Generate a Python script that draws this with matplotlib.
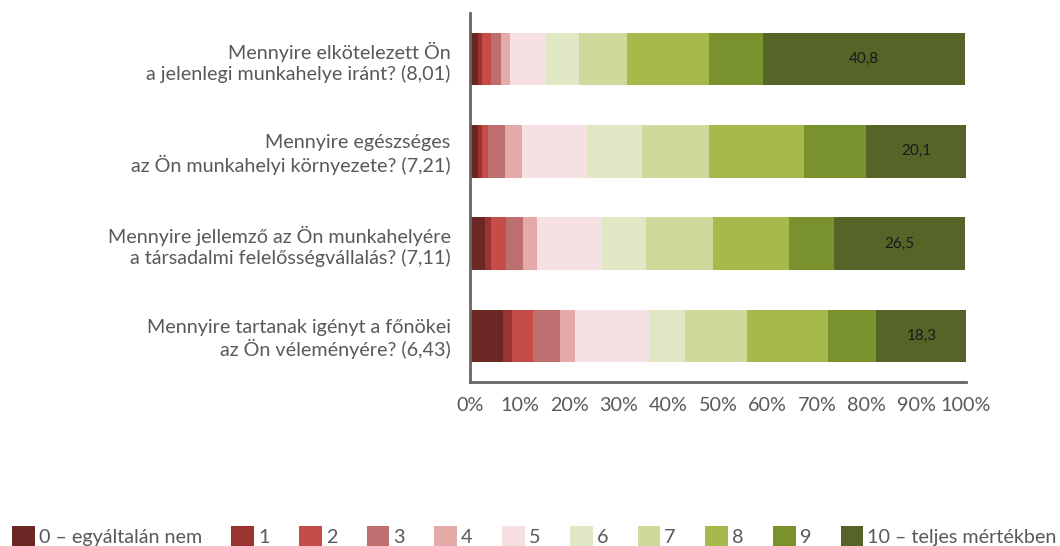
import numpy as np
import matplotlib
matplotlib.use("Agg")
import matplotlib.pyplot as plt
from matplotlib.patches import Patch

plt.rcParams["font.family"] = ["Lato", "DejaVu Sans"]

# questions (top to bottom)
questions = [
    "Mennyire elkötelezett Ön\na jelenlegi munkahelye iránt? (8,01)",
    "Mennyire egészséges\naz Ön munkahelyi környezete? (7,21)",
    "Mennyire jellemző az Ön munkahelyére\na társadalmi felelősségvállalás? (7,11)",
    "Mennyire tartanak igényt a főnökei\naz Ön véleményére? (6,43)",
]

# share of answers (%) per score 0..10, one list per score
score_0 = [1.7, 1.7, 3.0, 6.7]
score_1 = [0.7, 0.7, 1.2, 1.8]
score_2 = [1.8, 1.2, 3.0, 4.3]
score_3 = [2.0, 3.4, 3.4, 5.4]
score_4 = [1.8, 3.4, 3.0, 3.0]
score_5 = [7.3, 13.1, 13.1, 14.9]
score_6 = [6.7, 11.2, 8.7, 7.3]
score_7 = [9.6, 13.5, 13.6, 12.4]
score_8 = [16.6, 19.2, 15.4, 16.4]
score_9 = [10.8, 12.5, 8.9, 9.7]
score_10 = [40.8, 20.1, 26.5, 18.3]

legend_labels = ["0 – egyáltalán nem", "1", "2", "3", "4", "5", "6", "7", "8", "9",
                 "10 – teljes mértékben"]
colors = ["#6B2723", "#9B3330", "#C64C47", "#BD6E6E", "#E4AAAA", "#F5E1E1",
          "#E0E7C4", "#CFD99C", "#A5BA4B", "#7A922E", "#556427"]

series = [score_0, score_1, score_2, score_3, score_4, score_5,
          score_6, score_7, score_8, score_9, score_10]

fig = plt.figure(figsize=(10.6, 5.46), dpi=100)
ax = fig.add_axes([0.4434, 0.3004, 0.4679, 0.6758])

y = np.arange(len(questions))
left = np.zeros(len(questions))
for vals, col in zip(series, colors):
    ax.barh(y, vals, left=left, height=0.57, color=col, linewidth=0)
    left += np.array(vals)

# value labels on the last segment
starts = left - np.array(score_10)
for yi, s, v in zip(y, starts, score_10):
    ax.text(s + v / 2, yi, f"{v:.1f}".replace(".", ","), ha="center", va="center",
            fontsize=11, color="#1a1a1a")

ax.set_xlim(0, 100)
ax.set_ylim(len(questions) - 0.5, -0.5)
ax.set_xticks(np.arange(0, 101, 10))
ax.set_xticklabels([f"{t}%" for t in range(0, 101, 10)])
ax.set_yticks(y)
ax.set_yticklabels(questions)
ax.tick_params(axis="y", length=0, pad=14, labelsize=14.2, labelcolor="#595959")
ax.tick_params(axis="x", length=0, pad=11, labelsize=14.2, labelcolor="#595959")

for side in ["top", "right"]:
    ax.spines[side].set_visible(False)
for side in ["left", "bottom"]:
    ax.spines[side].set_color("#666666")
    ax.spines[side].set_linewidth(2)

handles = [Patch(facecolor=c, edgecolor="none") for c in colors]
fig.legend(handles, legend_labels, ncol=11, loc="center left",
           bbox_to_anchor=(12 / 1060, 10 / 546), frameon=False,
           fontsize=14.2, labelcolor="#595959", handlelength=1.15, handleheight=1.15,
           handletextpad=0.2, columnspacing=1.5, borderpad=0, borderaxespad=0)

fig.savefig("out.png", dpi=100)
